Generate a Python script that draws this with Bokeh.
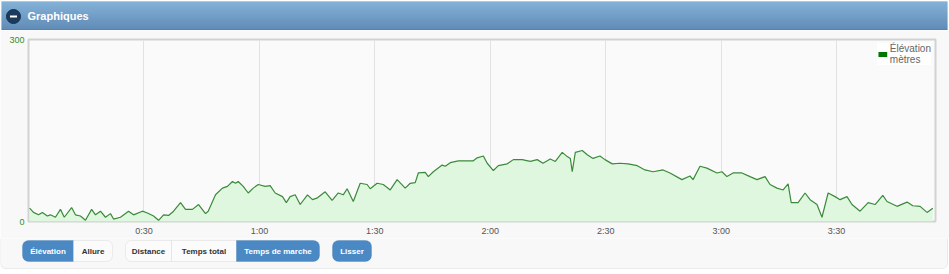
from bokeh.plotting import figure
from bokeh.models import Range1d, FixedTicker, BoxAnnotation, Legend, LegendItem, ColumnDataSource
from bokeh.embed import file_html
from bokeh.resources import INLINE
from bokeh.core.properties import value

# ---------------- data ----------------
time_min = [0.3, 1.3, 2.6, 3.6, 4.9, 5.7, 7.0, 8.3, 9.3, 11.2, 12.2, 13.5, 14.8, 16.4, 17.4,
            18.7, 20.0, 21.3, 22.1, 23.9, 26.0, 27.3, 29.6, 30.9, 32.5, 33.8, 35.1, 36.4,
            37.7, 39.5, 40.8, 42.6, 44.2, 46.0, 46.7, 48.6, 50.4, 51.7, 53.0, 53.8, 54.5,
            55.8, 57.1, 58.4, 59.7, 61.5, 62.8, 64.1, 66.0, 67.0, 68.0, 69.3, 70.6, 72.5,
            73.8, 75.1, 77.1, 78.9, 80.5, 81.8, 82.8, 84.4, 86.2, 88.0, 88.8, 90.6, 92.2,
            94.0, 95.8, 97.9, 99.2, 100.5, 101.3, 103.1, 103.9, 105.2, 107.5, 108.3, 109.6,
            111.7, 114.0, 115.6, 116.6, 118.2, 119.2, 120.8, 122.1, 124.4, 126.0, 128.3,
            130.4, 132.2, 133.7, 135.6, 136.9, 138.7, 140.0, 140.8, 141.3, 142.1, 143.9,
            145.2, 146.7, 148.5, 149.8, 151.7, 153.7, 155.8, 158.2, 160.2, 162.3, 164.9,
            166.7, 169.8, 171.9, 172.7, 174.5, 176.3, 178.9, 180.2, 181.5, 183.1, 185.4,
            187.5, 189.3, 191.4, 192.7, 194.5, 196.1, 197.4, 198.2, 200.0, 201.8, 203.1,
            204.9, 206.2, 207.8, 209.6, 210.9, 212.7, 214.0, 216.1, 218.2, 220.0, 222.0,
            223.1, 225.7, 228.3, 229.8, 231.7, 233.5, 235.0]
elevation_m = [22, 15, 11, 15, 9, 11, 7, 20, 7, 23, 11, 9, 2, 20, 11,
               17, 7, 13, 4, 7, 17, 11, 17, 14, 9, 2, 11, 10,
               17, 31, 20, 20, 28, 13, 17, 44, 55, 58, 66, 63, 66,
               58, 47, 55, 61, 58, 59, 47, 41, 31, 41, 44, 28, 44,
               36, 39, 49, 35, 47, 44, 54, 33, 63, 61, 54, 63, 61,
               52, 69, 55, 63, 64, 80, 81, 74, 82, 93, 91, 97,
               100, 100, 100, 105, 108, 96, 84, 92, 95, 102, 102,
               99, 102, 96, 103, 99, 114, 107, 104, 82, 114, 117,
               110, 104, 108, 102, 95, 96, 95, 92, 85, 82, 85,
               80, 69, 75, 69, 91, 88, 80, 82, 74, 80, 80,
               74, 69, 74, 61, 55, 52, 62, 31, 31, 47, 36,
               28, 7, 47, 41, 36, 41, 28, 17, 31, 28, 43,
               33, 25, 32, 26, 25, 15, 22]

x_ticks = [30, 60, 90, 120, 150, 180, 210]
x_tick_labels = ["0:30", "1:00", "1:30", "2:00", "2:30", "3:00", "3:30"]
y_ticks = [0, 300]
y_tick_labels = ["0", "300"]
x_max = 235.7
y_max = 300

title_text = "Graphiques"
legend_text = "Élévation\nmètres"
button_labels = ["Élévation", "Allure", "Distance", "Temps total", "Temps de marche", "Lisser"]
button_active = [True, False, False, False, True, True]

# ---------------- layout constants ----------------
W = 949
FONT = "Liberation Sans"
PANEL_BG = "#f8f8f8"

def bare(height, y0, y1):
    f = figure(width=W, height=height, x_range=Range1d(0, W), y_range=Range1d(y1, y0),
               output_backend="svg", toolbar_location=None, min_border=0,
               x_axis_type=None, y_axis_type=None)
    f.grid.visible = False
    f.outline_line_color = None
    f.background_fill_color = "#ffffff"
    f.border_fill_color = "#ffffff"
    return f

def lerp(c1, c2, fr):
    return "#%02x%02x%02x" % tuple(int(round(a + (b - a) * fr)) for a, b in zip(c1, c2))

# ---------------- header ----------------
hdr = bare(30, 0, 30)
rows = list(range(1, 29))
top_c, bot_c = (0x5c, 0x97, 0xca), (0x2e, 0x67, 0xa0)
cols = [lerp(top_c, bot_c, (r - 1) / 27) for r in rows]
hdr.quad(left=[1] * len(rows), right=[947] * len(rows), top=rows, bottom=[r + 1 for r in rows],
         fill_color=cols, line_color=None)
hdr.quad(left=[1], right=[947], top=[29], bottom=[30], fill_color="#224c78", line_color=None)
hdr.scatter(x=[13], y=[16], size=14, marker="circle", fill_color="#1c3a5c", line_color="#16304d")
hdr.quad(left=[9.5], right=[16.5], top=[15], bottom=[17], fill_color="#ffffff", line_color=None)
hdr.text(x=[27], y=[15.5], text=[title_text], text_font=value(FONT), text_font_style="bold",
         text_font_size="11px", text_color="#ffffff", text_baseline="middle")

# ---------------- chart ----------------
src = ColumnDataSource(dict(t=time_min, e=elevation_m))
p = figure(width=W, height=208, x_range=Range1d(0, x_max), y_range=Range1d(0, y_max),
           output_backend="svg", toolbar_location=None,
           min_border_left=28, min_border_right=14, min_border_top=9, min_border_bottom=16)
p.background_fill_color = "#fafafa"
p.border_fill_color = PANEL_BG
p.outline_line_color = "#d2d2d2"
p.outline_line_width = 2

p.varea(x="t", y1=0, y2="e", source=src, fill_color="#dff7df", fill_alpha=1)
p.line(x="t", y="e", source=src, line_color="#3b8a3b", line_width=1.2)

p.xgrid.ticker = FixedTicker(ticks=x_ticks)
p.xgrid.grid_line_color = "#e2e2e2"
p.ygrid.visible = False

p.xaxis.ticker = FixedTicker(ticks=x_ticks)
p.xaxis.major_label_overrides = {t: l for t, l in zip(x_ticks, x_tick_labels)}
p.yaxis.ticker = FixedTicker(ticks=y_ticks)
p.yaxis.major_label_overrides = {t: l for t, l in zip(y_ticks, y_tick_labels)}
for ax in (p.xaxis, p.yaxis):
    ax.axis_line_color = None
    ax.major_tick_line_color = None
    ax.minor_tick_line_color = None
    ax.major_tick_out = 0
    ax.major_tick_in = 0
    ax.minor_tick_out = 0
    ax.minor_tick_in = 0
    ax.major_label_text_font = FONT
    ax.major_label_text_font_size = "9px"
p.xaxis.major_label_text_color = "#555555"
p.xaxis.major_label_standoff = 4
p.yaxis.major_label_text_color = "#2f8f2f"
p.yaxis.major_label_standoff = 4

# legend swatch: zero-area area of the series, coloured as the series key
swatch = p.varea(x="t", y1=0, y2=0, source=src, fill_color="#007700", fill_alpha=1)
legend = Legend(items=[LegendItem(label=legend_text, renderers=[swatch])],
                location="top_right", margin=4, padding=2, spacing=0,
                glyph_width=11, glyph_height=6, label_standoff=2,
                label_text_font=FONT, label_text_font_size="10px",
                label_text_color="#666666", label_text_line_height=1.0,
                background_fill_color="#ffffff", background_fill_alpha=1,
                border_line_color=None)
p.add_layout(legend)

# ---------------- buttons ----------------
btn = bare(36, 238, 274)
btn.add_layout(BoxAnnotation(left=0, right=947, top=220, bottom=268, fill_color=PANEL_BG,
                             fill_alpha=1, line_color="#c4c4c4", line_width=1,
                             border_radius=(0, 0, 5, 5), level="underlay"))

edges = [(22, 73), (73, 112), (125, 171), (171, 236), (236, 319), (332, 371)]
radii = [(6, 0, 0, 6), (0, 6, 6, 0), (6, 0, 0, 6), (0, 0, 0, 0), (0, 6, 6, 0), (6, 6, 6, 6)]
for (l, r), rad, act in zip(edges, radii, button_active):
    btn.add_layout(BoxAnnotation(left=l, right=r, top=240, bottom=261,
                                 fill_color="#4a89c4" if act else "#fbfbfb", fill_alpha=1,
                                 line_color="#3a76ae" if act else "#c6c6c6", line_width=1,
                                 border_radius=rad, level="underlay"))
btn.text(x=[(l + r) / 2 for l, r in edges], y=[251] * len(edges), text=button_labels,
         text_font=value(FONT), text_font_style="bold", text_font_size="8px",
         text_color=["#ffffff" if a else "#333333" for a in button_active],
         text_align="center", text_baseline="middle")

open("out.html", "w").write(file_html([hdr, p, btn], INLINE))
